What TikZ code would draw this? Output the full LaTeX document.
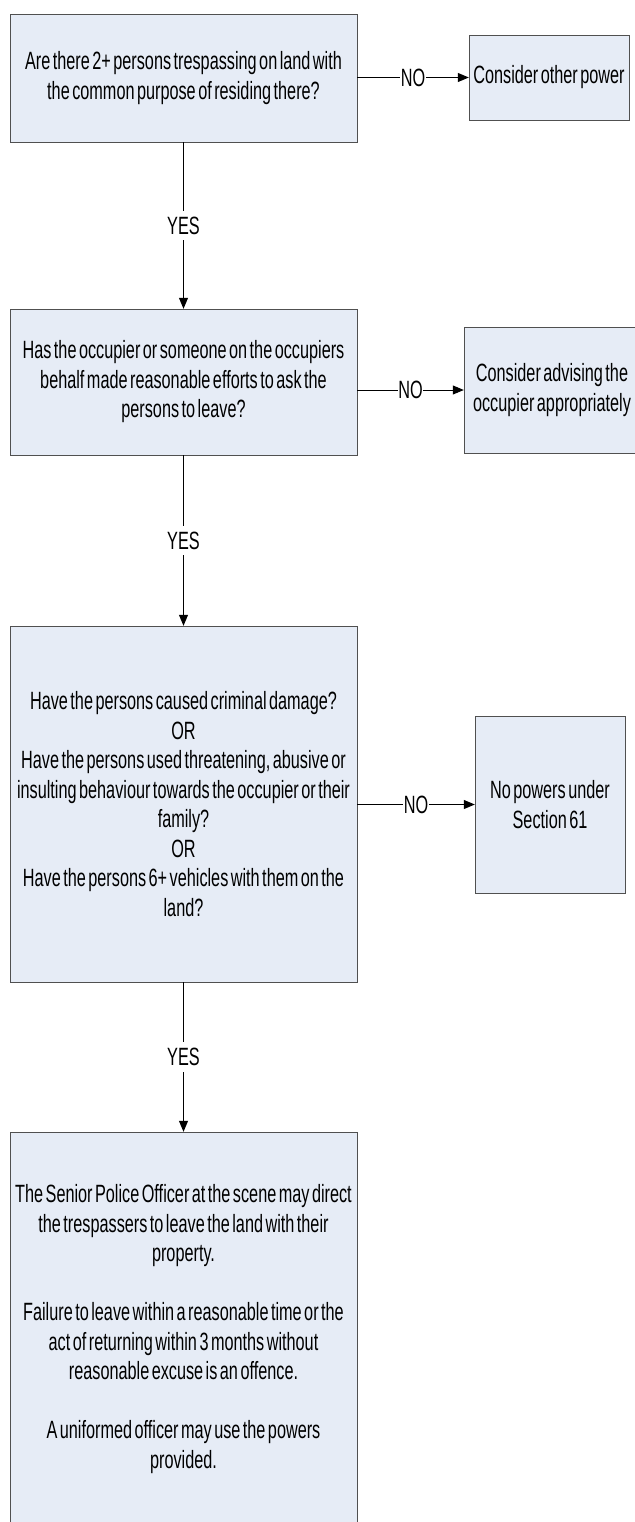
\documentclass[tikz,border=0pt]{standalone}
\usepackage{fontspec}
\setmainfont[FakeStretch=0.65, WordSpace=0.55]{Liberation Sans}
\usetikzlibrary{arrows.meta, positioning}

\definecolor{boxfill}{RGB}{230,236,246}
\definecolor{boxline}{RGB}{80,80,80}

\begin{document}
\begin{tikzpicture}[
    x=1pt, y=-1pt,
    question/.style={rectangle, draw=boxline, fill=boxfill, inner sep=1pt, minimum width=347pt, align=center, font=\fontsize{25}{29.5}\selectfont},
    outcome/.style={rectangle, draw=boxline, fill=boxfill, inner sep=1pt, align=center, font=\fontsize{25}{29.5}\selectfont},
    arrow/.style={-{Triangle[length=11pt, width=9pt]}, line width=1pt},
    answer/.style={fill=white, inner xsep=0.5pt, inner ysep=6pt, font=\fontsize{25}{25}\selectfont}
]
\useasboundingbox (0,0) rectangle (634,1522);

% Questions
\node[question, minimum height=128pt] (q1) at (183.5, 78) {Are there 2+ persons trespassing on land with\\the common purpose of residing there?};
\node[question, minimum height=146pt] (q2) at (183.5, 382) {Has the occupier or someone on the occupiers\\behalf made reasonable efforts to ask the\\persons to leave?};
\node[question, minimum height=356pt] (q3) at (183.5, 804) {Have the persons caused criminal damage?\\OR\\Have the persons used threatening, abusive or\\insulting behaviour towards the occupier or their\\family?\\OR\\Have the persons 6+ vehicles with them on the\\land?};
\node[question, minimum height=394pt] (q4) at (183.5, 1329) {The Senior Police Officer at the scene may direct\\the trespassers to leave the land with their\\property.\\[29.5pt]Failure to leave within a reasonable time or the\\act of returning within 3 months without\\reasonable excuse is an offence.\\[29.5pt]A uniformed officer may use the powers\\provided.};

% Outcomes
\node[outcome, minimum width=160pt, minimum height=85pt] (o1) at (549, 77.5) {Consider other power};
\node[outcome, minimum width=176pt, minimum height=126pt] (o2) at (552, 390) {Consider advising the\\occupier appropriately};
\node[outcome, minimum width=150pt, minimum height=177pt] (o3) at (550, 804.5) {No powers under\\Section 61};

% YES connectors
\draw[arrow] (q1) -- node[answer] {YES} (q2);
\draw[arrow] (q2) -- node[answer] {YES} (q3);
\draw[arrow] (q3) -- node[answer] {YES} (q4);

% NO connectors
\draw[arrow] (q1.east |- o1.west) -- node[answer] {NO} (o1.west);
\draw[arrow] (q2.east |- o2.west) -- node[answer] {NO} (o2.west);
\draw[arrow] (q3.east |- o3.west) -- node[answer] {NO} (o3.west);

\end{tikzpicture}
\end{document}
